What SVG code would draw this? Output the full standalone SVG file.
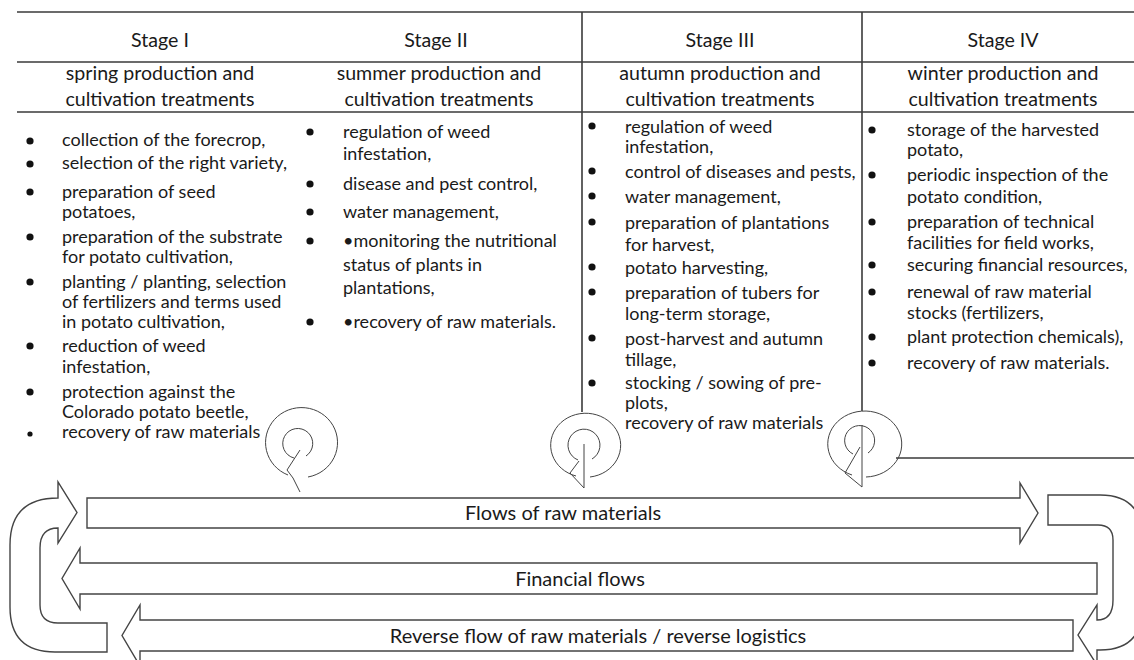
<svg xmlns="http://www.w3.org/2000/svg" width="1134" height="660" viewBox="0 0 1134 660">
<style>
text{font-family:Lato,"Liberation Sans",sans-serif;font-size:18px;fill:#1a1a1a}
.h{font-size:19.6px}
.f{font-size:20px}
.c{text-anchor:middle}
.ln{stroke:#3a3a3a;stroke-width:1.6;fill:none}
.thin{stroke:#444;stroke-width:1;fill:none}
.arr{stroke:#444;stroke-width:1.4;fill:#fff}
.b{fill:#111}
</style>
<rect width="1134" height="660" fill="#fff"/>
<g id="table">
<line class="ln" x1="17" y1="12" x2="1134" y2="12"/>
<line class="ln" x1="17" y1="62" x2="1134" y2="62"/>
<line class="ln" x1="17" y1="112" x2="1134" y2="112"/>
<line class="ln" x1="582" y1="12" x2="582" y2="412"/>
<line class="ln" x1="862" y1="12" x2="862" y2="411"/>
<line class="ln" x1="896" y1="458" x2="1134" y2="458"/>
</g>
<g id="stage1">
<text class="c h" x="160" y="47">Stage I</text>
<text class="c h" x="160" y="80">spring production and</text>
<text class="c h" x="160" y="106">cultivation treatments</text>
<circle class="b" cx="30" cy="141" r="3.6"/><text x="62" y="146">collection of the forecrop,</text>
<circle class="b" cx="30" cy="164" r="3.6"/><text x="62" y="169">selection of the right variety,</text>
<circle class="b" cx="30" cy="192" r="3.6"/><text x="62" y="198">preparation of seed</text>
<text x="62" y="218">potatoes,</text>
<circle class="b" cx="30" cy="237" r="3.6"/><text x="62" y="243">preparation of the substrate</text>
<text x="62" y="263">for potato cultivation,</text>
<circle class="b" cx="30" cy="282" r="3.6"/><text x="62" y="288">planting / planting, selection</text>
<text x="62" y="308">of fertilizers and terms used</text>
<text x="62" y="328">in potato cultivation,</text>
<circle class="b" cx="30" cy="346" r="3.6"/><text x="62" y="352">reduction of weed</text>
<text x="62" y="373">infestation,</text>
<circle class="b" cx="30" cy="392" r="3.6"/><text x="62" y="398">protection against the</text>
<text x="62" y="418">Colorado potato beetle,</text>
<circle class="b" cx="30" cy="434" r="2.6"/><text x="62" y="438">recovery of raw materials</text>
</g>
<g id="stage2">
<text class="c h" x="436" y="47">Stage II</text>
<text class="c h" x="439" y="80">summer production and</text>
<text class="c h" x="439" y="106">cultivation treatments</text>
<circle class="b" cx="310" cy="132" r="3.6"/><text x="343" y="138">regulation of weed</text>
<text x="343" y="160">infestation,</text>
<circle class="b" cx="310" cy="184" r="3.6"/><text x="343" y="190">disease and pest control,</text>
<circle class="b" cx="310" cy="212" r="3.6"/><text x="343" y="218">water management,</text>
<circle class="b" cx="310" cy="241" r="3.6"/><text x="343" y="247">•monitoring the nutritional</text>
<text x="343" y="271">status of plants in</text>
<text x="343" y="294">plantations,</text>
<circle class="b" cx="310" cy="322" r="3.6"/><text x="343" y="328">•recovery of raw materials.</text>
</g>
<g id="stage3">
<text class="c h" x="720" y="47">Stage III</text>
<text class="c h" x="720" y="80">autumn production and</text>
<text class="c h" x="720" y="106">cultivation treatments</text>
<circle class="b" cx="592" cy="126" r="3.6"/><text x="625" y="133">regulation of weed</text>
<text x="625" y="153">infestation,</text>
<circle class="b" cx="592" cy="171" r="3.6"/><text x="625" y="178">control of diseases and pests,</text>
<circle class="b" cx="592" cy="196" r="3.6"/><text x="625" y="203">water management,</text>
<circle class="b" cx="592" cy="222" r="3.6"/><text x="625" y="229">preparation of plantations</text>
<text x="625" y="251">for harvest,</text>
<circle class="b" cx="592" cy="267" r="3.6"/><text x="625" y="274">potato harvesting,</text>
<circle class="b" cx="592" cy="292" r="3.6"/><text x="625" y="299">preparation of tubers for</text>
<text x="625" y="320">long-term storage,</text>
<circle class="b" cx="592" cy="338" r="3.6"/><text x="625" y="345">post-harvest and autumn</text>
<text x="625" y="366">tillage,</text>
<circle class="b" cx="592" cy="383" r="3.6"/><text x="625" y="389">stocking / sowing of pre-</text>
<text x="625" y="409">plots,</text>
<text x="625" y="429">recovery of raw materials</text>
</g>
<g id="stage4">
<text class="c h" x="1003" y="47">Stage IV</text>
<text class="c h" x="1003" y="80">winter production and</text>
<text class="c h" x="1003" y="106">cultivation treatments</text>
<circle class="b" cx="872" cy="130" r="3.6"/><text x="907" y="136">storage of the harvested</text>
<text x="907" y="156">potato,</text>
<circle class="b" cx="872" cy="175" r="3.6"/><text x="907" y="181">periodic inspection of the</text>
<text x="907" y="203">potato condition,</text>
<circle class="b" cx="872" cy="222" r="3.6"/><text x="907" y="228">preparation of technical</text>
<text x="907" y="249">facilities for field works,</text>
<circle class="b" cx="872" cy="265" r="3.6"/><text x="907" y="271">securing financial resources,</text>
<circle class="b" cx="872" cy="292" r="3.6"/><text x="907" y="298">renewal of raw material</text>
<text x="907" y="319">stocks (fertilizers,</text>
<circle class="b" cx="872" cy="337" r="3.6"/><text x="907" y="343">plant protection chemicals),</text>
<circle class="b" cx="872" cy="363" r="3.6"/><text x="907" y="369">recovery of raw materials.</text>
</g>
<g id="cycle1">
<path class="thin" d="M288,475 A36,35 0 1 1 308,477"/>
<path class="thin" d="M294,458 A15,15 0 1 1 306,456"/>
<path class="thin" d="M300,450 L287,470 L293,478 L300,492"/>
</g>
<g id="cycle2">
<path class="thin" d="M576,476 A35,32 0 1 1 590,477"/>
<path class="thin" d="M578,460 A16,16 0 1 1 592,459"/>
<path class="thin" d="M584,444 V488 L570,473 L579,461"/>
</g>
<g id="cycle3">
<path class="thin" d="M852,475 A37,33 0 1 1 866,477"/>
<path class="thin" d="M853,454 A15,15 0 1 1 868,453"/>
<path class="thin" d="M862,425 V487 L845,473 L860,447"/>
</g>
<g id="flows">
<path class="arr" d="M87,498 H1020 V483 L1038,513 L1020,543 V528 H87 Z"/>
<path class="arr" d="M1097,563 H80 V548 L62,578.5 L80,609 V594 H1097 Z"/>
<path class="arr" d="M1073,620 H140 V605 L122,635.5 L140,666 V651 H1073 Z"/>
<path class="arr" d="M107,652 H55 Q10,652 10,607 V545 Q10,498 58,498 V482 L77,512.5 L58,543 V528 Q40,528 40,548 V605 Q40,623 58,623 H107 Z"/>
<path class="arr" d="M1048,495 H1100 Q1143,495 1143,540 V605 Q1143,650 1100,650 H1097 V665 L1078,635 L1097,605 V620 Q1113,620 1113,600 V540 Q1113,525 1098,525 H1048 Z"/>
<text class="c f" x="563" y="520">Flows of raw materials</text>
<text class="c f" x="580" y="586">Financial flows</text>
<text class="c f" x="598" y="643">Reverse flow of raw materials / reverse logistics</text>
</g>
</svg>
